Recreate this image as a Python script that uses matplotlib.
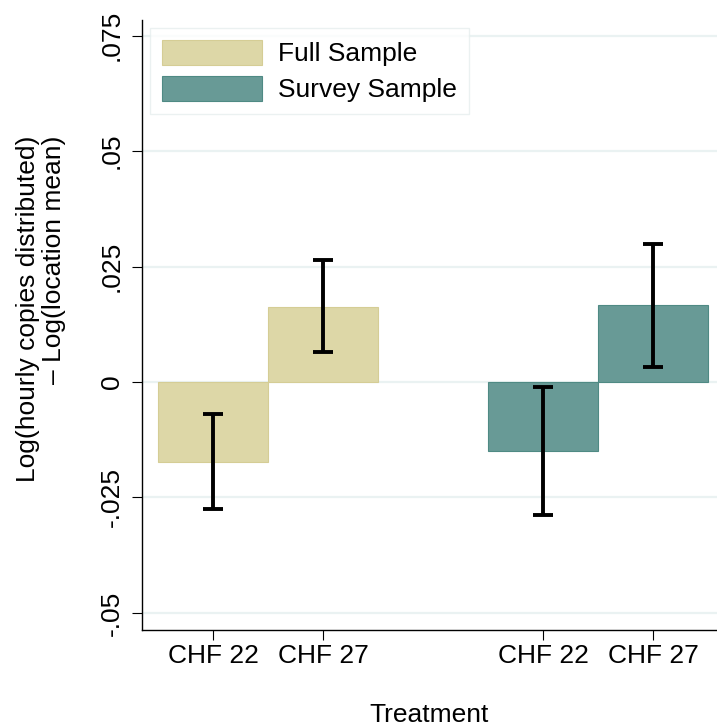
import matplotlib.pyplot as plt
import numpy as np

plt.rcParams['font.family'] = ['Liberation Sans', 'DejaVu Sans']

treatments = ["CHF 22", "CHF 27"]
samples = ["Full Sample", "Survey Sample"]

# mean effect and 95% CI per sample (CHF 22, CHF 27)
full_mean = [-0.0173, 0.0163]
full_lo = [-0.0276, 0.0064]
full_hi = [-0.0069, 0.0264]

survey_mean = [-0.0149, 0.0167]
survey_lo = [-0.0287, 0.0033]
survey_hi = [-0.0010, 0.0299]

yticks = [-0.05, -0.025, 0, 0.025, 0.05, 0.075]
ytick_labels = ["-.05", "-.025", "0", ".025", ".05", ".075"]

full_color = "#ddd7a7"
survey_color = "#689a96"

fig = plt.figure(figsize=(7.17, 7.26), dpi=100)
ax = fig.add_axes([142/717, 1 - 630/726, 1 - 142/717, (630 - 20)/726])

x_full = np.array([1, 2])
x_survey = np.array([4, 5])

ax.bar(x_full, full_mean, width=1.0, color=full_color, edgecolor="#d5cd95",
       linewidth=0.8, label=samples[0], zorder=2)
ax.bar(x_survey, survey_mean, width=1.0, color=survey_color, edgecolor="#4f8a84",
       linewidth=0.8, label=samples[1], zorder=2)

for xs, lo, hi in [(x_full, full_lo, full_hi), (x_survey, survey_lo, survey_hi)]:
    lo = np.asarray(lo)
    hi = np.asarray(hi)
    mid = (lo + hi) / 2
    ax.errorbar(xs, mid, yerr=[mid - lo, hi - mid], fmt="none", ecolor="black",
                elinewidth=2.8, capsize=7.5, capthick=2.8, zorder=3)

ax.set_xlim(0.352, 5.579)
ax.set_ylim(-0.0537, 0.0784)

ax.set_yticks(yticks)
ax.set_yticklabels(ytick_labels, rotation=90, va="center")
ax.set_xticks(np.concatenate([x_full, x_survey]))
ax.set_xticklabels(treatments + treatments)

ax.tick_params(axis="both", labelsize=19, length=7, width=0.8, color="black")
ax.tick_params(axis="y", pad=6)
ax.tick_params(axis="x", pad=3)

ax.yaxis.grid(True, color="#eaf2f2", linewidth=1.6)
ax.set_axisbelow(True)

for s in ["top", "right"]:
    ax.spines[s].set_visible(False)
for s in ["left", "bottom"]:
    ax.spines[s].set_linewidth(1.0)

ax.set_xlabel("Treatment", fontsize=19, labelpad=25)
fig.text(41/717, 1 - 309/726, "Log(hourly copies distributed)\n\u2013 Log(location mean)",
         rotation=90, ha="center", va="center", multialignment="right",
         fontsize=19, linespacing=1.1)

leg = ax.legend(loc="upper left", fontsize=19, frameon=True, fancybox=False,
                handlelength=3.8, handleheight=1.1, handletextpad=0.6,
                labelspacing=0.35, borderpad=0.45, borderaxespad=0.3)
leg.get_frame().set_edgecolor("#e6eeee")
leg.get_frame().set_linewidth(1.0)

fig.savefig("out.png", dpi=100)
